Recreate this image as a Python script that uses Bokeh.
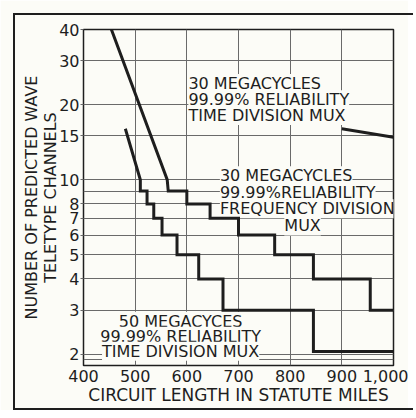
from bokeh.plotting import figure
from bokeh.models import FixedTicker, Label, Range1d, InlineStyleSheet
from bokeh.embed import file_html
from bokeh.resources import INLINE

# ---- data ----
x_ticks = [400, 500, 600, 700, 800, 900, 1000]
x_tick_labels = ["400", "500", "600", "700", "800", "900", "1,000"]
y_ticks = [2, 3, 4, 5, 6, 7, 8, 10, 15, 20, 30, 40]
y_grid = [1.9, 2, 3, 4, 5, 6, 7, 8, 9, 10, 15, 20, 30]

# 30 megacycles, 99.99% reliability, frequency division mux
fdm30_x = [454, 562, 564, 600, 600, 645, 645, 700, 700, 770, 770, 845, 845, 955, 955, 1000]
fdm30_y = [40, 10, 9, 9, 8, 8, 7, 7, 6, 6, 5, 5, 4, 4, 3, 3]
# 50 megacycles, 99.99% reliability, time division mux
tdm50_x = [481, 510, 510, 523, 523, 536, 536, 552, 552, 581, 581, 623, 623, 670, 670, 845, 845, 1000]
tdm50_y = [16, 10, 9, 9, 8, 8, 7, 7, 6, 6, 5, 5, 4, 4, 3, 3, 2.05, 2.05]
# 30 megacycles, 99.99% reliability, time division mux
tdm30_x = [900, 1000]
tdm30_y = [16, 14.8]

BG = "#fcfcf7"
INK = "#1e1e1e"
GRID = "#6a6a6a"
FONT = "DejaVu Sans"

box_css = InlineStyleSheet(css="""
:host::after {
  content: "";
  position: absolute;
  left: 13px; top: 13px; width: 400px; height: 397px;
  border-left: 2.5px solid #1e1e1e;
  border-top: 2.5px solid #1e1e1e;
  border-bottom: 2.5px solid #1e1e1e;
  pointer-events: none;
  box-sizing: border-box;
}
""")

p = figure(width=408, height=410, x_range=Range1d(400, 1000), y_range=Range1d(1.8, 40),
           y_axis_type="log", output_backend="svg", toolbar_location=None,
           min_border_left=83, min_border_right=15, min_border_top=29, min_border_bottom=45,
           background_fill_color=BG, border_fill_color=BG, stylesheets=[box_css])
p.outline_line_color = INK
p.outline_line_width = 1.5

# axes
p.xaxis.ticker = FixedTicker(ticks=x_ticks)
p.xaxis.major_label_overrides = {t: l for t, l in zip(x_ticks, x_tick_labels)}
p.yaxis.ticker = FixedTicker(ticks=y_ticks)
p.yaxis.major_label_overrides = {t: str(t) for t in y_ticks}
for ax in (p.xaxis, p.yaxis):
    ax.axis_line_color = None
    ax.minor_tick_line_color = None
    ax.major_tick_in = 0
    ax.major_label_text_font = FONT
    ax.major_label_text_font_size = "16px"
    ax.major_label_text_color = INK
    ax.axis_label_text_font = FONT
    ax.axis_label_text_font_style = "normal"
    ax.axis_label_text_color = INK
p.xaxis.major_tick_out = 0
p.xaxis.major_label_standoff = 4
p.xaxis.axis_label = "CIRCUIT LENGTH IN STATUTE MILES"
p.xaxis.axis_label_text_font_size = "17px"
p.xaxis.axis_label_standoff = 0
p.yaxis.major_tick_out = 3
p.yaxis.major_tick_line_color = GRID
p.yaxis.major_label_standoff = 1
p.yaxis.axis_label = "NUMBER OF PREDICTED WAVE\nTELETYPE CHANNELS"
p.yaxis.axis_label_text_font_size = "16px"
p.yaxis.axis_label_text_line_height = 1.0
p.yaxis.axis_label_standoff = -4

# grid
p.xgrid.ticker = FixedTicker(ticks=x_ticks[1:-1])
p.ygrid.ticker = FixedTicker(ticks=y_grid)
for g in (p.xgrid, p.ygrid):
    g.grid_line_color = GRID
    g.grid_line_width = 1

# curves
for xs, ys in ((fdm30_x, fdm30_y), (tdm50_x, tdm50_y), (tdm30_x, tdm30_y)):
    p.line(xs, ys, line_color=INK, line_width=3, line_join="miter")

# annotations
def lab(x, y, text, align="left"):
    p.add_layout(Label(x=x, y=y, text=text, text_align=align, text_baseline="middle",
                       text_font=FONT, text_font_size="16px", text_color=INK,
                       background_fill_color=BG, level="underlay"))

lab(603, 24.3, "30 MEGACYCLES")
lab(603, 20.9, "99.99% RELIABILITY")
lab(603, 18.07, "TIME DIVISION MUX")

lab(664, 10.37, "30 MEGACYCLES")
lab(664, 8.86, "99.99%RELIABILITY")
lab(664, 7.64, "FREQUENCY DIVISION")
lab(824, 6.53, "MUX", "center")

lab(588, 2.71, "50 MEGACYCES", "center")
lab(588, 2.36, "99.99% RELIABILITY", "center")
lab(588, 2.055, "TIME DIVISION MUX", "center")

open("out.html", "w").write(file_html(p, INLINE))
